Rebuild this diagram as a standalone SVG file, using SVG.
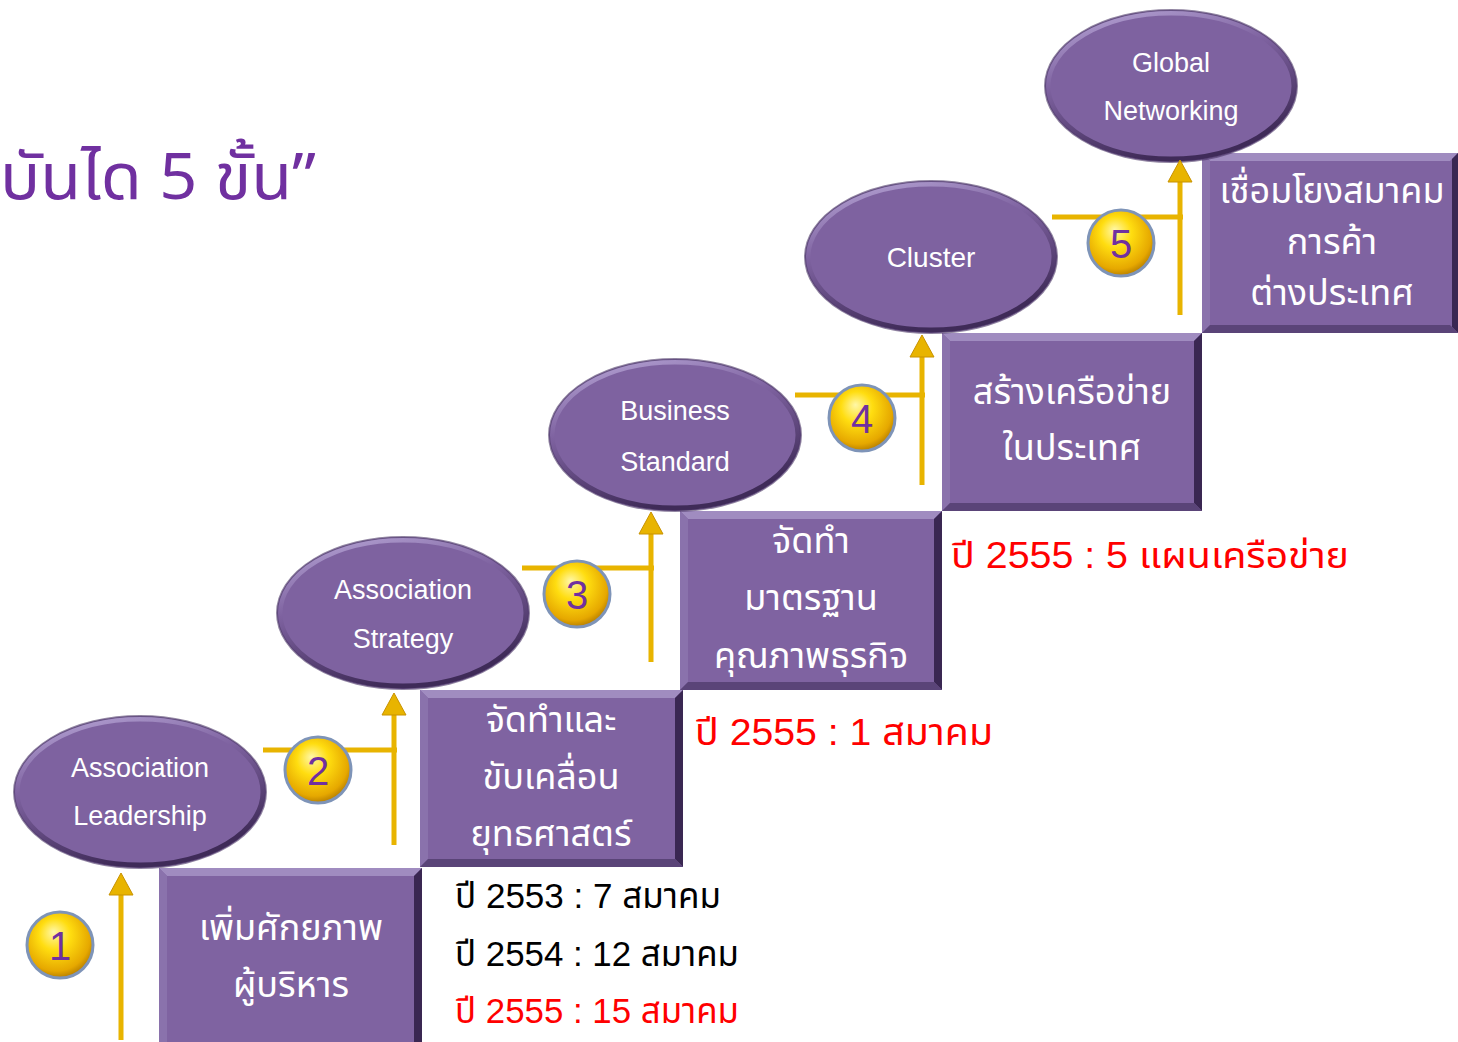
<svg xmlns="http://www.w3.org/2000/svg" width="1458" height="1042" viewBox="0 0 1458 1042">
<defs>
<style>
.ell{fill:#7E62A0;}
.ellEdge{fill:none;stroke:url(#edgeGrad);stroke-width:5;}
.ellOut{fill:none;stroke:#4A3564;stroke-width:2;opacity:0.6;}
.et{font-family:"Liberation Sans",Arial,sans-serif;font-size:27px;fill:#FFFFFF;text-anchor:middle;}
.bx{fill:#7F63A1;}
.bt{fill:#A08CC0;}
.bl{fill:#8A72AC;}
.br{fill:#3A2752;}
.bb{fill:#5A4478;}
.tt{font-family:"Noto Sans Thai","Noto Sans","DejaVu Sans",sans-serif;font-size:36px;fill:#FFFFFF;text-anchor:middle;}
.coin{fill:url(#coinGrad);stroke:#7E94B8;stroke-width:3;}
.num{font-family:"Liberation Sans",Arial,sans-serif;font-size:40px;fill:#7030A0;text-anchor:middle;}
.gold{stroke:#E8B400;stroke-width:5;fill:none;}
.yr{font-family:"Liberation Sans","Noto Sans Thai","Noto Sans",sans-serif;font-size:35px;}
.th{font-family:"Noto Sans Thai","Noto Sans",sans-serif;}
</style>
<linearGradient id="edgeGrad" x1="0" y1="0" x2="0.4" y2="1">
<stop offset="0" stop-color="#B9A8D8"/>
<stop offset="0.45" stop-color="#7E62A0"/>
<stop offset="1" stop-color="#3F2B58"/>
</linearGradient>
<radialGradient id="coinGrad" cx="0.45" cy="0.4" r="0.6" fx="0.4" fy="0.3">
<stop offset="0" stop-color="#FFF7A8"/>
<stop offset="0.4" stop-color="#FFDD10"/>
<stop offset="0.85" stop-color="#E6A800"/>
<stop offset="1" stop-color="#B98000"/>
</radialGradient>
<marker id="ah" markerWidth="30" markerHeight="30" refX="0" refY="0" orient="auto" markerUnits="userSpaceOnUse" overflow="visible">
<path d="M -16 -12 L 6 0 L -16 12 Z" fill="#E8B400" stroke="#C89200" stroke-width="1"/>
</marker>
</defs>

<rect x="0" y="0" width="1458" height="1042" fill="#FFFFFF"/>

<text x="0" y="199" font-family="Noto Sans Thai,Noto Sans,Liberation Sans,sans-serif" font-size="64" fill="#7030A0" textLength="316" lengthAdjust="spacingAndGlyphs">บันได 5 ขั้น”</text>

<!-- Boxes -->
<g id="box1">
<rect class="bx" x="159" y="868" width="263" height="182"/>
<polygon class="bt" points="159,868 422,868 414,876 167,876"/>
<polygon class="bl" points="159,868 167,876 167,1050 159,1050"/>
<polygon class="br" points="422,868 422,1050 414,1050 414,876"/>
<text class="tt" x="291" y="940">เพิ่มศักยภาพ</text>
<text class="tt" x="291" y="997">ผู้บริหาร</text>
</g>
<g id="box2">
<rect class="bx" x="420" y="690" width="263" height="177"/>
<polygon class="bt" points="420,690 683,690 675,698 428,698"/>
<polygon class="bl" points="420,690 428,698 428,859 420,867"/>
<polygon class="br" points="683,690 683,867 675,859 675,698"/>
<polygon class="bb" points="420,867 683,867 675,859 428,859"/>
<text class="tt" x="551" y="732">จัดทำและ</text>
<text class="tt" x="551" y="789">ขับเคลื่อน</text>
<text class="tt" x="551" y="846">ยุทธศาสตร์</text>
</g>
<g id="box3">
<rect class="bx" x="680" y="511" width="262" height="179"/>
<polygon class="bt" points="680,511 942,511 934,519 688,519"/>
<polygon class="bl" points="680,511 688,519 688,682 680,690"/>
<polygon class="br" points="942,511 942,690 934,682 934,519"/>
<polygon class="bb" points="680,690 942,690 934,682 688,682"/>
<text class="tt" x="811" y="553">จัดทำ</text>
<text class="tt" x="811" y="610">มาตรฐาน</text>
<text class="tt" x="811" y="668">คุณภาพธุรกิจ</text>
</g>
<g id="box4">
<rect class="bx" x="942" y="333" width="260" height="178"/>
<polygon class="bt" points="942,333 1202,333 1194,341 950,341"/>
<polygon class="bl" points="942,333 950,341 950,503 942,511"/>
<polygon class="br" points="1202,333 1202,511 1194,503 1194,341"/>
<polygon class="bb" points="942,511 1202,511 1194,503 950,503"/>
<text class="tt" x="1072" y="404">สร้างเครือข่าย</text>
<text class="tt" x="1072" y="460">ในประเทศ</text>
</g>
<g id="box5">
<rect class="bx" x="1202" y="153" width="256" height="180"/>
<polygon class="bt" points="1202,153 1458,153 1450,161 1210,161"/>
<polygon class="bl" points="1202,153 1210,161 1210,325 1202,333"/>
<polygon class="br" points="1458,153 1458,333 1452,327 1452,159"/>
<polygon class="bb" points="1202,333 1458,333 1450,325 1210,325"/>
<text class="tt" x="1332" y="203">เชื่อมโยงสมาคม</text>
<text class="tt" x="1332" y="254">การค้า</text>
<text class="tt" x="1332" y="305">ต่างประเทศ</text>
</g>

<!-- Ellipses -->
<g id="ell1">
<ellipse class="ell" cx="140" cy="792" rx="126" ry="76"/>
<ellipse class="ellEdge" cx="140" cy="792" rx="123" ry="73"/>
<ellipse class="ellOut" cx="140" cy="792" rx="126" ry="76"/>
<text class="et" x="140" y="777">Association</text>
<text class="et" x="140" y="825">Leadership</text>
</g>
<g id="ell2">
<ellipse class="ell" cx="403" cy="613" rx="126" ry="76"/>
<ellipse class="ellEdge" cx="403" cy="613" rx="123" ry="73"/>
<ellipse class="ellOut" cx="403" cy="613" rx="126" ry="76"/>
<text class="et" x="403" y="599">Association</text>
<text class="et" x="403" y="648">Strategy</text>
</g>
<g id="ell3">
<ellipse class="ell" cx="675" cy="435" rx="126" ry="76"/>
<ellipse class="ellEdge" cx="675" cy="435" rx="123" ry="73"/>
<ellipse class="ellOut" cx="675" cy="435" rx="126" ry="76"/>
<text class="et" x="675" y="420">Business</text>
<text class="et" x="675" y="471">Standard</text>
</g>
<g id="ell4">
<ellipse class="ell" cx="931" cy="257" rx="126" ry="76"/>
<ellipse class="ellEdge" cx="931" cy="257" rx="123" ry="73"/>
<ellipse class="ellOut" cx="931" cy="257" rx="126" ry="76"/>
<text class="et" x="931" y="267" style="font-size:28px">Cluster</text>
</g>
<g id="ell5">
<ellipse class="ell" cx="1171" cy="86" rx="126" ry="76"/>
<ellipse class="ellEdge" cx="1171" cy="86" rx="123" ry="73"/>
<ellipse class="ellOut" cx="1171" cy="86" rx="126" ry="76"/>
<text class="et" x="1171" y="72">Global</text>
<text class="et" x="1171" y="120">Networking</text>
</g>

<!-- Connectors -->
<g id="connectors">
<path class="gold" d="M121,1040 L121,879" marker-end="url(#ah)"/>
<path class="gold" d="M394,845 L394,699" marker-end="url(#ah)"/>
<path class="gold" d="M263,750 L397,750"/>
<path class="gold" d="M651,662 L651,518" marker-end="url(#ah)"/>
<path class="gold" d="M522,568 L654,568"/>
<path class="gold" d="M922,485 L922,341" marker-end="url(#ah)"/>
<path class="gold" d="M795,395 L925,395"/>
<path class="gold" d="M1180,315 L1180,166" marker-end="url(#ah)"/>
<path class="gold" d="M1052,217 L1183,217"/>
</g>

<!-- Coins -->
<g id="coin1"><circle class="coin" cx="60" cy="945" r="33"/><text class="num" x="60" y="960">1</text></g>
<g id="coin2"><circle class="coin" cx="318" cy="770" r="33"/><text class="num" x="318" y="785">2</text></g>
<g id="coin3"><circle class="coin" cx="577" cy="594" r="33"/><text class="num" x="577" y="609">3</text></g>
<g id="coin4"><circle class="coin" cx="862" cy="418" r="33"/><text class="num" x="862" y="433">4</text></g>
<g id="coin5"><circle class="coin" cx="1121" cy="243" r="33"/><text class="num" x="1121" y="258">5</text></g>

<!-- Year labels -->
<text class="yr" x="455" y="908" fill="#000000" textLength="266" lengthAdjust="spacingAndGlyphs"><tspan class="th">ปี</tspan> 2553 : 7 <tspan class="th">สมาคม</tspan></text>
<text class="yr" x="455" y="966" fill="#000000" textLength="284" lengthAdjust="spacingAndGlyphs"><tspan class="th">ปี</tspan> 2554 : 12 <tspan class="th">สมาคม</tspan></text>
<text class="yr" x="455" y="1023" fill="#FF0000" textLength="284" lengthAdjust="spacingAndGlyphs"><tspan class="th">ปี</tspan> 2555 : 15 <tspan class="th">สมาคม</tspan></text>
<text class="yr" x="695" y="745" fill="#FF0000" style="font-size:37px" textLength="298" lengthAdjust="spacingAndGlyphs"><tspan class="th">ปี</tspan> 2555 : 1 <tspan class="th">สมาคม</tspan></text>
<text class="yr" x="951" y="568" fill="#FF0000" style="font-size:36px" textLength="398" lengthAdjust="spacingAndGlyphs"><tspan class="th">ปี</tspan> 2555 : 5 <tspan class="th">แผนเครือข่าย</tspan></text>
</svg>
